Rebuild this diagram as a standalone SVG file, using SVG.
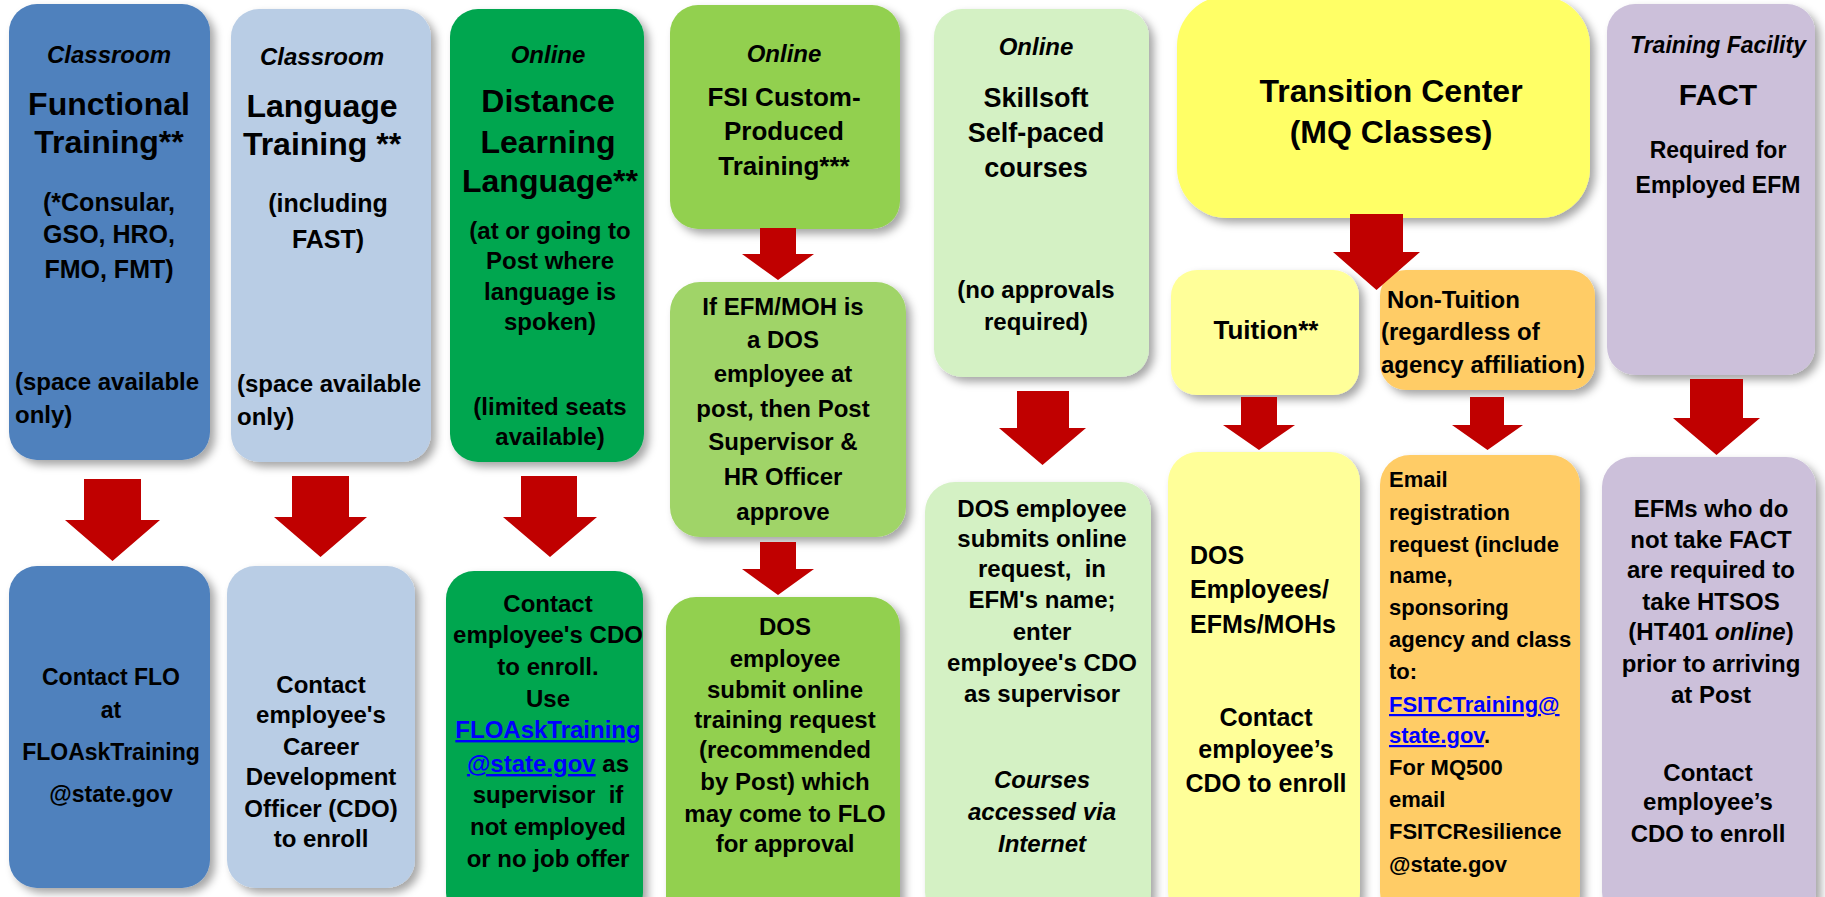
<svg xmlns="http://www.w3.org/2000/svg" width="1825" height="897" viewBox="0 0 1825 897">
<defs>
<filter id="sh" x="-10%" y="-10%" width="125%" height="125%">
<feDropShadow dx="5" dy="5" stdDeviation="4" flood-color="#000" flood-opacity="0.35"/>
</filter>
<style>
text{font-family:"Liberation Sans",Arial,sans-serif;font-weight:bold;fill:#000;}
.c{text-anchor:middle;}
.i{font-style:italic;}
.t{font-size:32px;}
.b{font-size:24px;}
.lk{fill:#0000FF;text-decoration:underline;}
.arrow{fill:#C00000;}
</style>
</defs>
<rect width="1825" height="897" fill="#fff"/>

<g id="functional" filter="url(#sh)">
<rect x="9" y="4" width="201" height="456" rx="28" fill="#4F81BD"/>
</g>
<g id="functional-text">
<text class="c i b" x="109" y="63">Classroom</text>
<text class="c t" x="109" y="115">Functional</text>
<text class="c t" x="109" y="153">Training**</text>
<text class="c" font-size="25" x="109" y="211">(*Consular,</text>
<text class="c" font-size="25" x="109" y="243">GSO, HRO,</text>
<text class="c" font-size="25" x="109" y="278">FMO, FMT)</text>
<text class="b" x="15" y="390">(space available</text>
<text class="b" x="15" y="423">only)</text>
</g>

<g id="contact-flo" filter="url(#sh)">
<rect x="9" y="566" width="201" height="322" rx="28" fill="#4F81BD"/>
</g>
<g id="contact-flo-text">
<text class="c" font-size="23" x="111" y="685">Contact FLO</text>
<text class="c" font-size="23" x="111" y="718">at</text>
<text class="c" font-size="23" x="111" y="760">FLOAskTraining</text>
<text class="c" font-size="23" x="111" y="802">@state.gov</text>
</g>

<g id="language" filter="url(#sh)">
<rect x="231" y="9" width="200" height="453" rx="28" fill="#B9CDE5"/>
</g>
<g id="language-text">
<text class="c i b" x="322" y="65">Classroom</text>
<text class="c t" x="322" y="117">Language</text>
<text class="c t" x="322" y="155">Training **</text>
<text class="c" font-size="25" x="328" y="212">(including</text>
<text class="c" font-size="25" x="328" y="248">FAST)</text>
<text class="b" x="237" y="392">(space available</text>
<text class="b" x="237" y="425">only)</text>
</g>

<g id="contact-cdo" filter="url(#sh)">
<rect x="227" y="566" width="188" height="322" rx="28" fill="#B9CDE5"/>
</g>
<g id="contact-cdo-text">
<text class="c b" x="321" y="693">Contact</text>
<text class="c b" x="321" y="723">employee's</text>
<text class="c b" x="321" y="755">Career</text>
<text class="c b" x="321" y="785">Development</text>
<text class="c b" x="321" y="817">Officer (CDO)</text>
<text class="c b" x="321" y="847">to enroll</text>
</g>

<g id="distance" filter="url(#sh)">
<rect x="450" y="9" width="194" height="453" rx="28" fill="#00A650"/>
</g>
<g id="distance-text">
<text class="c i b" x="548" y="63">Online</text>
<text class="c t" x="548" y="112">Distance</text>
<text class="c t" x="548" y="153">Learning</text>
<text class="c t" x="550" y="192">Language**</text>
<text class="c b" x="550" y="239">(at or going to</text>
<text class="c b" x="550" y="269">Post where</text>
<text class="c b" x="550" y="300">language is</text>
<text class="c b" x="550" y="330">spoken)</text>
<text class="c b" x="550" y="415">(limited seats</text>
<text class="c b" x="550" y="445">available)</text>
</g>

<g id="distance-contact" filter="url(#sh)">
<rect x="446" y="571" width="197" height="350" rx="28" fill="#00A650"/>
</g>
<g id="distance-contact-text">
<text class="c b" x="548" y="612">Contact</text>
<text class="c b" x="548" y="643">employee's CDO</text>
<text class="c b" x="548" y="675">to enroll.</text>
<text class="c b" x="548" y="707">Use</text>
<text class="c b lk" x="548" y="738">FLOAskTraining</text>
<text class="c b" x="548" y="772"><tspan class="lk">@state.gov</tspan> as</text>
<text class="c b" x="548" y="803" xml:space="preserve">supervisor  if</text>
<text class="c b" x="548" y="835">not employed</text>
<text class="c b" x="548" y="867">or no job offer</text>
</g>

<g id="fsi-custom" filter="url(#sh)">
<rect x="670" y="5" width="230" height="224" rx="28" fill="#92D050"/>
</g>
<g id="fsi-custom-text">
<text class="c i b" x="784" y="62">Online</text>
<text class="c" font-size="26" x="784" y="106">FSI Custom-</text>
<text class="c" font-size="26" x="784" y="140">Produced</text>
<text class="c" font-size="26" x="784" y="175">Training***</text>
</g>

<g id="fsi-approve" filter="url(#sh)">
<rect x="670" y="282" width="236" height="255" rx="30" fill="#A0D468"/>
</g>
<g id="fsi-approve-text">
<text class="c b" x="783" y="315">If EFM/MOH is</text>
<text class="c b" x="783" y="348">a DOS</text>
<text class="c b" x="783" y="382">employee at</text>
<text class="c b" x="783" y="417">post, then Post</text>
<text class="c b" x="783" y="450">Supervisor &amp;</text>
<text class="c b" x="783" y="485">HR Officer</text>
<text class="c b" x="783" y="520">approve</text>
</g>

<g id="fsi-submit" filter="url(#sh)">
<rect x="666" y="597" width="234" height="330" rx="30" fill="#92D050"/>
</g>
<g id="fsi-submit-text">
<text class="c b" x="785" y="635">DOS</text>
<text class="c b" x="785" y="667">employee</text>
<text class="c b" x="785" y="698">submit online</text>
<text class="c b" x="785" y="728">training request</text>
<text class="c b" x="785" y="758">(recommended</text>
<text class="c b" x="785" y="790">by Post) which</text>
<text class="c b" x="785" y="822">may come to FLO</text>
<text class="c b" x="785" y="852">for approval</text>
</g>

<g id="skillsoft" filter="url(#sh)">
<rect x="934" y="9" width="215" height="368" rx="28" fill="#D4F1C4"/>
</g>
<g id="skillsoft-text">
<text class="c i b" x="1036" y="55">Online</text>
<text class="c" font-size="27" x="1036" y="107">Skillsoft</text>
<text class="c" font-size="27" x="1036" y="142">Self-paced</text>
<text class="c" font-size="27" x="1036" y="177">courses</text>
<text class="c b" x="1036" y="298">(no approvals</text>
<text class="c b" x="1036" y="330">required)</text>
</g>

<g id="skillsoft-submit" filter="url(#sh)">
<rect x="925" y="482" width="226" height="440" rx="30" fill="#D4F1C4"/>
</g>
<g id="skillsoft-submit-text">
<text class="c b" x="1042" y="517">DOS employee</text>
<text class="c b" x="1042" y="547">submits online</text>
<text class="c b" x="1042" y="577" xml:space="preserve">request,  in</text>
<text class="c b" x="1042" y="608">EFM's name;</text>
<text class="c b" x="1042" y="640">enter</text>
<text class="c b" x="1042" y="671">employee's CDO</text>
<text class="c b" x="1042" y="702">as supervisor</text>
<text class="c b i" x="1042" y="788">Courses</text>
<text class="c b i" x="1042" y="820">accessed via</text>
<text class="c b i" x="1042" y="852">Internet</text>
</g>

<g id="transition" filter="url(#sh)">
<rect x="1177" y="-4" width="413" height="222" rx="50" fill="#FFFF66"/>
</g>
<g id="transition-text">
<text class="c t" x="1391" y="102">Transition Center</text>
<text class="c t" x="1391" y="143">(MQ Classes)</text>
</g>

<g id="tuition" filter="url(#sh)">
<rect x="1171" y="270" width="188" height="125" rx="26" fill="#FFFF99"/>
</g>
<g id="tuition-text">
<text class="c" font-size="26" x="1266" y="339">Tuition**</text>
</g>

<g id="non-tuition" filter="url(#sh)">
<rect x="1380" y="270" width="215" height="120" rx="26" fill="#FFCC66"/>
</g>
<g id="non-tuition-text">
<text class="b" x="1387" y="308">Non-Tuition</text>
<text class="b" x="1381" y="340">(regardless of</text>
<text class="b" x="1381" y="373">agency affiliation)</text>
</g>

<g id="tuition-dos" filter="url(#sh)">
<rect x="1168" y="452" width="192" height="470" rx="30" fill="#FFFF99"/>
</g>
<g id="tuition-dos-text">
<text font-size="25" x="1190" y="564">DOS</text>
<text font-size="25" x="1190" y="598">Employees/</text>
<text font-size="25" x="1190" y="633">EFMs/MOHs</text>
<text class="c" font-size="25" x="1266" y="726">Contact</text>
<text class="c" font-size="25" x="1266" y="758">employee’s</text>
<text class="c" font-size="25" x="1266" y="792">CDO to enroll</text>
</g>

<g id="non-tuition-email" filter="url(#sh)">
<rect x="1380" y="455" width="200" height="467" rx="30" fill="#FFCC66"/>
</g>
<g id="non-tuition-email-text" font-size="22">
<text font-size="22" x="1389" y="487">Email</text>
<text font-size="22" x="1389" y="520">registration</text>
<text font-size="22" x="1389" y="552">request (include</text>
<text font-size="22" x="1389" y="583">name,</text>
<text font-size="22" x="1389" y="615">sponsoring</text>
<text font-size="22" x="1389" y="647">agency and class</text>
<text font-size="22" x="1389" y="679">to:</text>
<text font-size="22" class="lk" x="1389" y="712">FSITCTraining@</text>
<text font-size="22" x="1389" y="743"><tspan class="lk">state.gov</tspan>.</text>
<text font-size="22" x="1389" y="775">For MQ500</text>
<text font-size="22" x="1389" y="807">email</text>
<text font-size="22" x="1389" y="839">FSITCResilience</text>
<text font-size="22" x="1389" y="872">@state.gov</text>
</g>

<g id="fact" filter="url(#sh)">
<rect x="1607" y="4" width="208" height="371" rx="28" fill="#CCC0DA"/>
</g>
<g id="fact-text">
<text class="c i" font-size="23" x="1718" y="53">Training Facility</text>
<text class="c" font-size="30" x="1718" y="105">FACT</text>
<text class="c" font-size="23" x="1718" y="158">Required for</text>
<text class="c" font-size="23" x="1718" y="193">Employed EFM</text>
</g>

<g id="htsos" filter="url(#sh)">
<rect x="1602" y="457" width="214" height="465" rx="30" fill="#CCC0DA"/>
</g>
<g id="htsos-text">
<text class="c b" x="1711" y="517">EFMs who do</text>
<text class="c b" x="1711" y="548">not take FACT</text>
<text class="c b" x="1711" y="578">are required to</text>
<text class="c b" x="1711" y="610">take HTSOS</text>
<text class="c b" x="1711" y="640">(HT401 <tspan font-style="italic">online</tspan>)</text>
<text class="c b" x="1711" y="672">prior to arriving</text>
<text class="c b" x="1711" y="703">at Post</text>
<text class="c b" x="1708" y="781">Contact</text>
<text class="c b" x="1708" y="810">employee’s</text>
<text class="c b" x="1708" y="842">CDO to enroll</text>
</g>

<g id="connectors">
<polygon class="arrow" points="84,479 141,479 141,520 160,520 112.5,561 65,520 84,520"/>
<polygon class="arrow" points="292,476 349,476 349,517 367,517 320.5,557 274,517 292,517"/>
<polygon class="arrow" points="521,476 577,476 577,517 597,517 550,557 503,517 521,517"/>
<polygon class="arrow" points="760,228 796,228 796,254 814,254 778,280 742,254 760,254"/>
<polygon class="arrow" points="760,542 796,542 796,569 814,569 778,595 742,569 760,569"/>
<polygon class="arrow" points="1017,391 1069,391 1069,428 1086,428 1042.5,465 999,428 1017,428"/>
<polygon class="arrow" points="1350,214 1403,214 1403,252 1420,252 1376.5,290 1333,252 1350,252"/>
<polygon class="arrow" points="1241,397 1277,397 1277,425 1295,425 1259,450 1223,425 1241,425"/>
<polygon class="arrow" points="1470,397 1504,397 1504,425 1523,425 1487.5,450 1452,425 1470,425"/>
<polygon class="arrow" points="1690,379 1743,379 1743,418 1760,418 1716.5,455 1673,418 1690,418"/>
</g>
</svg>
